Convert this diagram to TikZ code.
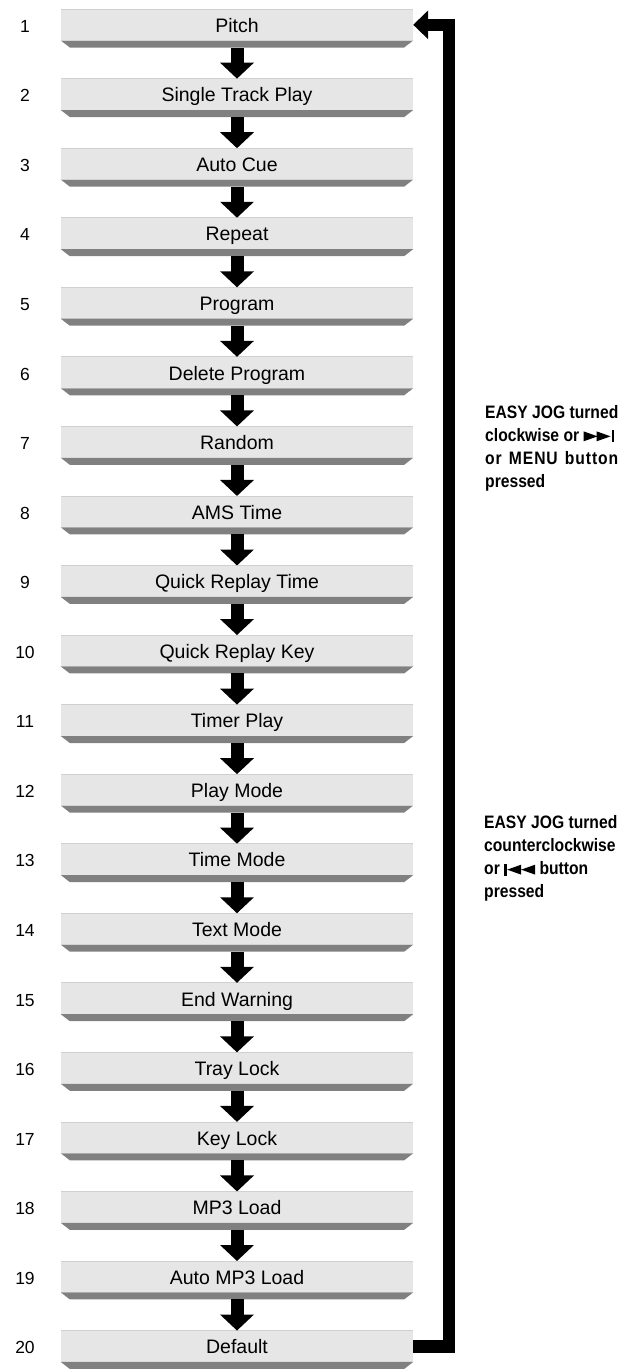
\documentclass[tikz,border=0pt]{standalone}
\usepackage{fontspec}
\setmainfont{Liberation Sans}
\newfontfamily\condbf[FakeStretch=0.87]{Liberation Sans}
\usetikzlibrary{arrows.meta,calc}
\definecolor{boxfill}{HTML}{E6E6E6}
\definecolor{boxedge}{HTML}{D0D0D0}
\definecolor{bevel}{HTML}{808080}
\newcommand\fwdsym{\tikz[x=1pt,y=1pt,baseline=0pt]{\fill (0,0)--(14,5)--(0,10)--cycle (13,0)--(27,5)--(13,10)--cycle; \fill (28,-1) rectangle (30.5,11);}}
\newcommand\rewsym{\tikz[x=1pt,y=1pt,baseline=0pt]{\fill (0,-1) rectangle (2.5,11); \fill (17,0)--(3,5)--(17,10)--cycle (31,0)--(17,5)--(31,10)--cycle;}}
\begin{document}
\begin{tikzpicture}[x=1pt,y=-1pt,
  stepbox/.style={fill=boxfill, minimum width=352pt, minimum height=31pt, inner sep=0pt,
    text height=19pt, text depth=4pt, font=\fontsize{19.5}{23}\selectfont},
  num/.style={inner sep=0pt, text height=19pt, text depth=4pt, font=\fontsize{17.5}{20}\selectfont},
  down/.style={line width=13pt, -{Triangle[length=16pt,width=33pt]}},
  loopline/.style={line width=12.5pt, line join=miter, -{Triangle[length=15pt,width=28pt]}},
  side/.style={anchor=north west, inner sep=0pt, align=left,
    font={\condbf\bfseries\fontsize{18}{23.3}\selectfont}}]
\useasboundingbox (0,0) rectangle (627,1369);
\foreach \t [count=\i] in {Pitch, Single Track Play, Auto Cue, Repeat, Program,
  Delete Program, Random, AMS Time, Quick Replay Time, Quick Replay Key,
  Timer Play, Play Mode, Time Mode, Text Mode, End Warning, Tray Lock,
  Key Lock, MP3 Load, Auto MP3 Load, Default} {
  \node[stepbox] (b\i) at (237, {24.8+(\i-1)*69.55}) {\t};
  \draw[boxedge, line width=0.8pt] (b\i.north west) -- (b\i.north east);
  \fill[bevel] (b\i.south west) -- (b\i.south east) -- ++(-9,7)
    -- ($(b\i.south west)+(9,7)$) -- cycle;
  \node[num] (n\i) at (25, {24.8+(\i-1)*69.55}) {\i};
}
\foreach \i in {1,...,19} {
  \pgfmathtruncatemacro\j{\i+1}
  \draw[down] ($(b\i.south)+(0,7)$) -- (b\j.north);
}
\draw[loopline] (b20.east) -- ++(36,0) |- (b1.east);
\node[side] (t1) at (485,404.8) {EASY JOG turned\\clockwise or \fwdsym\\%
  \makebox[133pt][s]{\addfontfeature{LetterSpace=5}or MENU button}\\pressed};
\node[side] (t2) at (484,814.8) {EASY JOG turned\\counterclockwise\\or \rewsym\ button\\pressed};
\end{tikzpicture}
\end{document}
